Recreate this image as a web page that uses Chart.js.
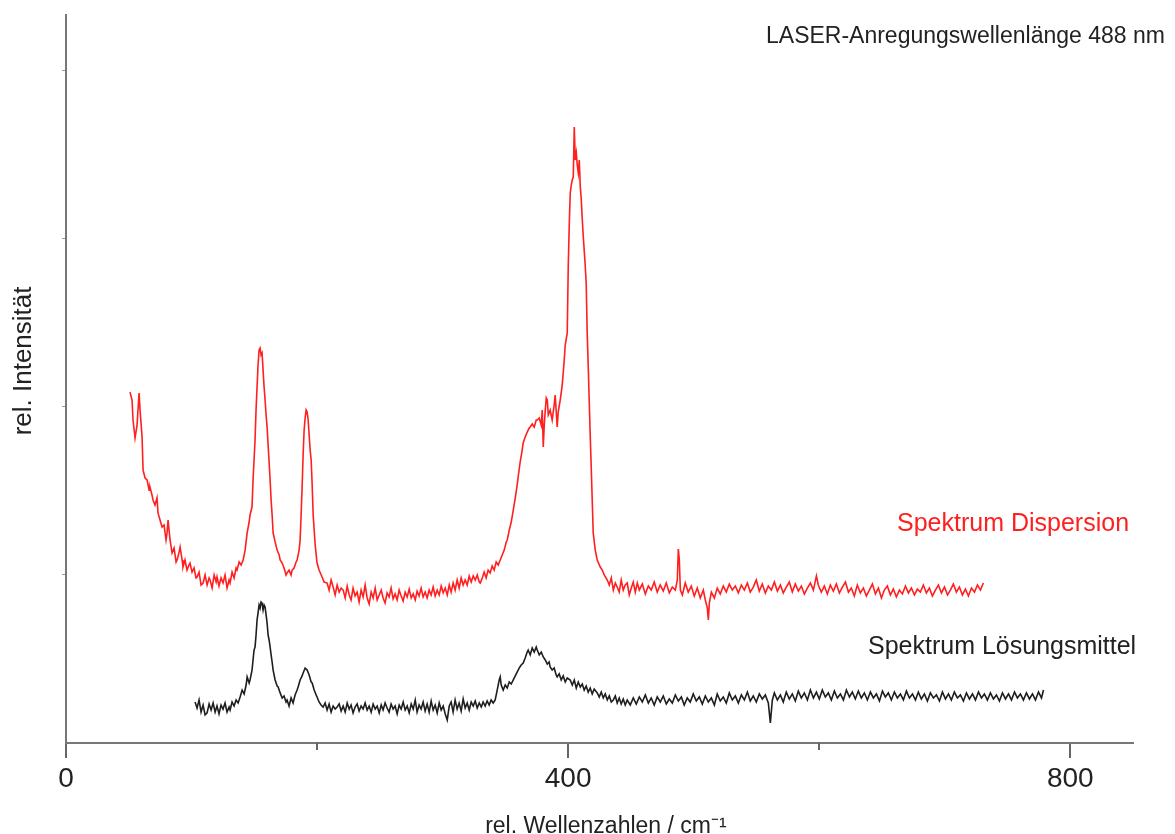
<!DOCTYPE html>
<html>
<head>
<meta charset="utf-8">
<title>Raman-Spektrum</title>
<script src="https://cdn.jsdelivr.net/npm/chart.js@4.4.1/dist/chart.umd.min.js"></script>
<style>
  html, body { margin: 0; padding: 0; background: #ffffff; }
  #wrap { width: 1175px; height: 834px; position: relative; }
  canvas { display: block; }
</style>
</head>
<body>
<div id="wrap"><canvas id="chart" width="1175" height="834"></canvas></div>
<script>
// ---------------- DATA ----------------
// x: rel. Wellenzahlen / cm^-1, y: rel. Intensität (arbitrary units)
const dispersionSpectrum = [
[51.0,208.8],[52.6,204.1],[53.4,192.2],[55.0,181.5],[56.6,189.2],[58.2,208.3],[59.0,198.1],[60.6,182.1],[61.4,162.4],[63.0,157.7],
[64.6,156.5],[66.2,150.5],[66.9,152.3],[68.5,147.6],[69.3,144.6],[70.9,141.6],[72.5,145.8],[73.3,136.9],[74.9,132.7],[76.5,128.5],
[78.1,129.7],[79.7,120.8],[80.5,125.0],[81.3,132.7],[82.9,120.8],[84.5,113.1],[86.1,116.0],[87.7,107.7],[88.5,108.9],[90.1,113.6],
[90.9,116.6],[92.5,108.9],[93.2,104.7],[94.8,108.9],[96.4,102.9],[98.0,105.9],[98.8,107.1],[100.4,101.7],[102.0,104.1],[103.6,98.2],
[104.4,98.8],[106.0,101.7],[107.6,94.0],[109.2,95.2],[110.8,100.0],[112.4,94.0],[114.0,98.2],[114.8,97.0],[116.4,92.2],[118.0,100.0],
[119.6,95.8],[120.3,98.8],[121.9,93.4],[123.5,98.2],[125.1,95.2],[126.7,100.0],[128.3,92.2],[129.9,97.0],[130.7,95.2],[132.3,101.7],
[133.9,98.2],[135.5,104.1],[136.3,102.9],[137.9,107.7],[139.5,105.9],[141.1,108.9],[142.7,114.8],[144.3,125.0],[145.9,131.5],[146.6,135.7],
[148.2,140.4],[149.0,156.5],[149.8,168.4],[150.6,180.3],[151.4,198.1],[152.2,211.8],[153.0,224.9],[153.8,233.8],[154.6,235.0],[155.4,230.9],
[156.2,232.1],[157.0,221.9],[157.8,211.8],[158.6,204.1],[159.4,195.2],[160.2,188.0],[161.0,177.3],[161.8,167.2],[162.6,156.5],[163.4,144.6],
[164.2,135.7],[165.0,125.0],[166.6,119.6],[168.2,114.8],[169.8,111.9],[170.6,108.9],[172.2,107.1],[173.7,104.1],[175.3,100.0],[176.1,101.2],
[177.7,102.9],[179.3,100.0],[180.1,102.9],[181.7,104.1],[183.3,107.7],[184.1,108.9],[185.7,114.8],[186.5,120.8],[187.3,135.7],[188.1,152.3],
[188.9,171.4],[189.7,186.2],[190.5,193.4],[191.3,198.1],[192.1,196.9],[192.9,192.2],[193.7,183.3],[194.5,174.3],[195.3,168.4],[196.1,153.5],
[196.9,135.7],[198.5,117.8],[200.0,107.1],[201.6,102.9],[204.0,98.8],[205.6,95.8],[208.0,95.2],[209.6,91.0],[211.2,97.0],[212.8,92.8],
[214.4,88.1],[216.0,94.0],[217.6,89.8],[219.2,92.2],[220.8,91.0],
[222.4,86.3],[224.0,93.4],[225.6,88.1],[227.1,85.1],[228.7,92.2],[230.3,87.5],[231.9,89.8],[233.5,83.9],[235.1,91.0],[236.7,86.9],
[238.3,94.0],[239.9,86.3],[241.5,82.7],[243.1,89.8],[244.7,86.3],[246.3,92.2],[247.9,85.1],[249.5,88.1],[251.1,91.0],[252.6,86.3],
[254.2,83.3],[255.8,89.3],[257.4,86.9],[259.0,92.2],[260.6,85.7],[262.2,88.7],[263.8,85.1],[265.4,91.0],[267.0,87.5],[268.6,84.5],
[270.2,89.8],[271.8,86.9],[273.4,91.6],[275.0,86.3],[276.6,88.7],[278.2,85.1],[279.7,90.4],[281.3,87.5],[282.9,92.2],[284.5,86.9],
[286.1,89.8],[287.7,86.3],[289.3,91.0],[290.9,88.1],[292.5,92.8],[294.1,87.5],[295.7,91.0],[297.3,88.1],[298.9,93.4],[300.5,89.3],
[302.1,92.2],[303.7,88.1],[305.3,94.0],[306.8,89.8],[308.4,95.2],[310.0,91.0],[311.6,97.0],[313.2,92.2],[314.8,98.2],[316.4,94.0],
[318.0,97.0],[319.6,94.0],[321.2,99.4],[322.8,95.8],[324.4,99.4],[326.0,97.0],[327.6,100.0],[329.2,95.8],[330.0,95.2],
[331.6,98.2],[333.1,101.7],[334.7,98.2],[336.3,102.9],[337.9,101.2],[339.5,105.3],[341.1,102.9],[342.7,107.7],[344.3,105.9],[345.9,108.9],
[347.5,111.9],[349.1,114.8],[350.7,119.6],[351.5,120.8],[353.1,126.7],[354.7,131.5],[356.3,138.6],[357.9,145.8],[359.4,153.5],[360.2,158.3],
[361.8,167.2],[363.4,174.3],[364.2,178.5],[365.8,182.1],[367.4,185.0],[369.0,187.4],[369.8,188.0],[371.4,189.8],[373.0,188.0],[374.6,192.2],
[375.4,192.2],[377.0,193.4],[378.6,189.2],[379.4,198.1],[380.2,176.1],[381.0,189.2],[381.8,198.1],[382.6,205.3],[383.4,204.1],[384.2,195.2],
[385.7,198.1],[387.3,192.2],[388.9,201.1],[389.7,207.1],[391.3,188.0],[392.1,196.9],[393.7,204.1],[395.3,213.0],[396.1,220.2],[396.9,227.9],
[397.7,236.8],[399.3,244.0],[400.1,283.2],[400.9,308.2],[401.7,327.3],[402.5,332.0],[403.3,335.0],[404.1,336.8],[404.9,366.5],[405.7,346.9],
[406.5,351.1],[407.3,343.9],[408.1,339.2],[408.9,346.9],[409.7,330.8],[410.5,323.1],[411.3,311.2],[412.0,302.3],[412.8,293.3],[413.6,284.4],
[414.4,273.7],[415.2,244.0],[416.0,224.9],[416.8,204.1],[417.6,183.3],[418.4,164.2],[419.2,144.6],[420.0,125.0],[421.6,114.8],[423.2,108.9],
[425.6,104.7],[427.2,102.9],[428.8,100.0],[431.2,97.0],[432.8,94.0],[434.4,98.2],[436.0,91.0],[437.6,95.2],[439.1,92.8],[440.7,89.8],
[442.3,97.0],[443.9,91.0],[445.5,94.0],[447.1,95.2],[448.7,88.1],[450.3,92.2],[451.9,95.8],[453.5,89.8],[455.1,95.2],
[456.7,91.0],[459.1,94.6],[461.5,88.7],[463.9,93.4],[466.2,91.0],[468.6,95.8],[471.0,89.8],[473.4,94.0],[475.8,90.4],[478.2,95.2],
[480.6,89.3],[483.0,92.8],[485.4,91.0],[487.0,97.0],[487.8,115.4],[488.6,108.9],[489.4,91.0],[491.0,88.1],[493.3,95.2],[495.7,89.8],
[498.1,93.4],[500.5,87.5],[502.9,92.2],[505.3,86.3],[507.7,91.0],[509.3,85.1],[510.9,80.3],[511.7,73.2],[512.5,83.3],[514.1,89.8],
[516.5,86.3],[518.8,92.2],[521.2,88.7],[523.6,93.4],[526.0,89.8],[528.4,94.6],[530.8,91.0],[533.2,93.4],[535.6,89.3],[538.0,94.0],
[540.4,91.0],[542.8,95.2],[545.1,89.8],[547.5,92.8],[549.9,97.0],[552.3,90.4],[554.7,94.6],[557.1,89.3],[559.5,93.4],[561.9,91.0],
[564.3,95.8],[566.7,90.4],[569.1,94.0],[571.4,89.3],[573.8,92.8],[576.2,95.8],[578.6,89.8],[581.0,94.6],[583.4,90.4],[585.8,93.4],
[588.2,88.7],[590.6,92.2],[593.0,95.2],[595.4,91.0],[597.8,99.4],[599.3,94.0],[601.7,89.8],[604.1,93.4],[606.5,88.7],[608.9,94.0],
[611.3,90.4],[613.7,94.6],[616.1,89.3],[618.5,92.8],[620.9,95.8],[623.3,89.8],[625.6,92.2],[628.0,87.5],[630.4,94.0],[632.8,89.3],
[635.2,92.2],[637.6,87.5],[640.0,91.0],[642.4,94.6],[644.8,88.7],[647.2,92.2],[649.6,86.3],[651.9,91.0],[654.3,93.4],[656.7,88.1],
[659.1,91.6],[661.5,86.9],[663.9,91.0],[666.3,88.7],[668.7,93.4],[671.1,89.3],[673.5,92.2],[675.9,88.1],[678.2,91.6],[680.6,89.8],
[683.0,94.0],[685.4,89.3],[687.8,92.2],[690.2,87.5],[692.6,91.0],[695.0,94.0],[697.4,89.3],[699.8,92.8],[702.2,88.1],[704.5,91.0],
[706.9,94.6],[709.3,89.8],[711.7,92.8],[714.1,88.1],[716.5,91.6],[718.9,87.5],[721.3,92.2],[723.7,89.8],[726.1,94.0],[728.5,91.0],
[730.8,95.2]
];

const solventSpectrum = [
[102.8,24.4],[104.4,20.8],[106.0,25.6],[107.6,18.4],[109.2,22.6],[110.8,16.7],[112.4,17.9],[114.0,23.2],[115.6,19.6],[117.2,23.8],
[118.8,18.4],[120.3,22.0],[121.9,17.3],[123.5,22.6],[125.1,20.2],[126.7,23.8],[128.3,18.4],[129.9,21.4],[130.7,19.6],[132.3,24.4],
[133.9,22.0],[135.5,25.6],[137.1,23.8],[138.7,27.4],[140.3,31.5],[141.9,29.2],[143.5,34.5],[144.3,39.3],[145.9,35.7],[146.6,37.5],
[148.2,43.4],[149.0,49.4],[149.8,55.3],[150.6,57.1],[151.4,64.3],[152.2,73.2],[153.0,77.4],[153.8,82.1],[154.6,80.3],[155.4,83.9],
[156.2,83.3],[157.0,79.1],[157.8,82.1],[158.6,80.9],[159.4,76.2],[160.2,71.4],[161.0,64.3],[161.8,61.3],[162.6,57.1],[163.4,52.4],
[164.2,48.2],[165.0,43.4],[166.6,37.5],[168.2,33.9],[169.0,33.3],[170.6,29.8],[172.2,26.8],[173.7,28.0],[175.3,24.4],[176.1,25.6],
[177.7,22.0],[179.3,26.8],[180.9,23.8],[182.5,28.6],[184.1,31.5],[184.9,33.3],[186.5,37.5],[188.1,39.9],[188.9,41.7],[190.5,44.6],
[192.1,43.4],[193.7,40.5],[195.3,36.3],[196.1,35.7],[197.7,31.5],[199.3,28.6],[200.0,27.4],[201.6,24.4],[203.2,22.6],[204.8,21.4],
[206.4,23.8],[208.0,19.6],[209.6,23.2],[211.2,18.4],[212.8,22.0],[214.4,20.2],[216.0,21.4],
[217.6,23.2],[219.2,19.0],[220.8,22.0],[222.4,18.4],[224.0,23.8],[225.6,20.2],[227.1,22.6],[228.7,17.9],[230.3,21.4],[231.9,23.2],
[233.5,19.0],[235.1,22.0],[236.7,20.2],[238.3,23.8],[239.9,19.6],[241.5,22.0],[243.1,18.4],[244.7,23.2],[246.3,20.2],[247.9,22.0],
[249.5,17.9],[251.1,22.6],[252.6,19.6],[254.2,23.8],[255.8,20.8],[257.4,18.4],[259.0,23.2],[260.6,20.2],[262.2,22.0],[263.8,17.3],
[265.4,22.6],[267.0,20.2],[268.6,24.4],[270.2,19.6],[271.8,22.0],[273.4,17.9],[275.0,23.2],[276.6,20.2],[278.2,25.6],[279.7,18.4],
[281.3,22.6],[282.9,20.2],[284.5,24.4],[286.1,19.0],[287.7,23.2],[289.3,18.4],[290.9,25.0],[292.5,19.6],[294.1,22.6],[295.7,17.9],
[297.3,23.8],[298.9,19.6],[300.5,22.0],[302.1,17.3],[303.7,13.7],[305.3,22.0],[306.8,24.4],[308.4,18.4],[310.0,25.6],[311.6,20.2],
[313.2,23.8],[314.8,19.0],[316.4,26.2],[318.0,20.8],[319.6,23.8],[321.2,19.6],[322.8,24.4],[324.4,22.0],[326.0,25.0],[327.6,20.8],
[329.2,23.8],[330.8,21.4],[332.3,24.4],[333.9,22.0],[335.5,25.0],[337.1,22.6],[338.7,25.6],[340.3,23.8],
[341.9,25.6],[343.5,31.5],[345.1,37.5],[345.9,39.3],[346.7,34.5],[348.3,31.5],[349.9,34.5],[351.5,32.7],[353.1,36.3],[354.7,35.1],
[356.3,37.5],[357.9,39.9],[359.4,42.2],[361.0,44.6],[362.6,46.4],[364.2,47.6],[365.8,50.6],[367.4,54.1],[368.2,55.3],[369.8,52.4],
[371.4,56.5],[373.0,54.1],[374.6,57.1],[375.4,55.3],[377.0,52.4],[378.6,54.1],[380.2,51.2],[381.8,49.4],[383.4,47.0],[384.9,48.2],
[385.7,45.2],[387.3,43.4],[388.9,44.6],[390.5,40.5],[391.3,39.3],[392.9,41.1],[394.5,37.5],[396.1,39.9],[397.7,36.3],[399.3,38.7],
[401.7,37.5],[403.3,34.5],[404.9,37.5],[406.5,32.7],[408.1,36.3],[409.7,33.3],[411.3,35.1],[412.8,31.5],[414.4,33.9],[416.0,30.3],
[417.6,32.7],[419.2,29.2],[420.8,32.1],[423.2,29.8],[424.8,27.4],[426.4,30.3],[428.0,26.8],[429.6,29.2],[431.2,25.6],[432.8,28.0],
[434.4,24.4],[436.0,25.6],[437.6,28.0],[439.1,23.8],[440.7,26.8],[442.3,23.2],[443.9,26.2],[445.5,22.6],[447.1,25.6],[449.5,22.6],
[451.9,26.8],[454.3,23.2],[456.7,27.4],[459.1,24.4],[461.5,28.6],[463.9,23.8],[466.2,26.8],[468.6,22.6],[471.0,27.4],[473.4,24.4],
[475.8,28.0],[478.2,23.2],[480.6,26.2],[483.0,23.8],[485.4,28.6],[487.8,25.0],[490.2,27.4],[492.5,22.6],[494.9,26.8],[497.3,24.4],
[499.7,29.2],[502.1,25.0],[504.5,27.4],[506.9,23.2],[509.3,28.0],[511.7,24.4],[514.1,26.8],[516.5,22.6],[518.8,29.2],[521.2,25.0],
[523.6,27.4],[526.0,23.8],[528.4,29.8],[530.8,25.6],[533.2,28.0],[535.6,23.8],[538.0,28.6],[540.4,25.6],[542.8,30.3],[545.1,25.0],
[547.5,28.0],[549.9,24.4],[552.3,29.2],[554.7,26.2],[557.1,28.6],[559.5,23.8],[561.1,11.9],[562.7,25.6],[564.3,29.8],[566.7,25.6],
[569.1,28.6],[571.4,24.4],[573.8,30.3],[576.2,26.2],[578.6,29.2],[581.0,25.0],[583.4,30.9],[585.8,26.8],[588.2,29.8],[590.6,25.6],
[593.0,31.5],[595.4,26.8],[597.8,30.3],[600.1,26.2],[602.5,31.5],[604.9,27.4],[607.3,29.8],[609.7,25.6],[612.1,30.9],[614.5,26.8],
[616.9,29.2],[619.3,25.6],[621.7,31.5],[624.1,27.4],[626.4,30.3],[628.8,26.2],[631.2,30.9],[633.6,26.8],[636.0,29.8],[638.4,25.6],
[640.8,30.3],[643.2,26.8],[645.6,29.2],[648.0,25.0],[650.4,30.9],[652.7,27.4],[655.1,29.8],[657.5,25.6],[659.9,30.3],[662.3,26.8],
[664.7,29.2],[667.1,25.6],[669.5,30.9],[671.9,26.8],[674.3,29.2],[676.7,25.6],[679.0,30.3],[681.4,26.2],[683.8,29.2],[686.2,25.0],
[688.6,29.8],[691.0,26.8],[693.4,28.6],[695.8,25.0],[698.2,30.3],[700.6,26.2],[703.0,29.2],[705.3,25.6],[707.7,30.3],[710.1,26.8],
[712.5,28.6],[714.9,25.0],[717.3,29.8],[719.7,26.2],[722.1,29.2],[724.5,25.6],[726.9,30.3],[729.3,26.8],[731.6,29.2],[734.0,25.6],
[736.4,29.8],[738.8,26.2],[741.2,28.6],[743.6,25.0],[746.0,29.8],[748.4,26.2],[750.8,29.2],[753.2,25.6],[755.6,30.3],[757.9,26.8],
[760.3,29.2],[762.7,25.6],[765.1,29.8],[767.5,26.2],[769.9,29.2],[772.3,25.6],[774.7,30.3],[777.1,26.8],[778.7,31.5]
];

const xTickValues = [0, 200, 400, 600, 800];
const xLabelledTicks = [0, 400, 800];
const yTickValues = [100, 200, 300, 400];

const seriesNames = ['Spektrum Dispersion', 'Spektrum Lösungsmittel'];
const chartTexts = {
  note: 'LASER-Anregungswellenlänge 488 nm',
  xTitle: 'rel. Wellenzahlen / cm\u207B\u00B9',
  yTitle: 'rel. Intensität'
};

// ---------------- CHART ----------------
const FONT = '"Liberation Sans", Arial, Helvetica, sans-serif';
const RED = '#ff1f1f';
const BLACK = '#1e1e1e';

const annotationPlugin = {
  id: 'spectrumAnnotations',
  afterDraw(chart) {
    const ctx = chart.ctx;
    const xs = chart.scales.x;
    const area = chart.chartArea;
    ctx.save();
    // minor x ticks
    ctx.strokeStyle = '#666';
    ctx.lineWidth = 2;
    xTickValues.filter(v => !xLabelledTicks.includes(v)).forEach(v => {
      const px = Math.round(xs.getPixelForValue(v));
      ctx.beginPath();
      ctx.moveTo(px, area.bottom);
      ctx.lineTo(px, area.bottom + 7);
      ctx.stroke();
    });
    // texts
    ctx.textAlign = 'left';
    ctx.textBaseline = 'middle';
    ctx.fillStyle = '#222';
    ctx.font = '23px ' + FONT;
    ctx.fillText(chartTexts.note, 766, 37);
    ctx.font = '25px ' + FONT;
    ctx.fillStyle = RED;
    ctx.fillText(seriesNames[0], 897, 524);
    ctx.fillStyle = '#222';
    ctx.fillText(seriesNames[1], 868, 647);
    ctx.restore();
  }
};

new Chart(document.getElementById('chart'), {
  type: 'scatter',
  data: {
    datasets: [
      {
        label: seriesNames[0],
        data: dispersionSpectrum.map(([x, y]) => ({ x, y })),
        showLine: true,
        borderColor: RED,
        borderWidth: 1.6,
        pointRadius: 0,
        tension: 0
      },
      {
        label: seriesNames[1],
        data: solventSpectrum.map(([x, y]) => ({ x, y })),
        showLine: true,
        borderColor: BLACK,
        borderWidth: 1.6,
        pointRadius: 0,
        tension: 0
      }
    ]
  },
  options: {
    responsive: false,
    animation: false,
    devicePixelRatio: 1,
    layout: { padding: { top: 15, right: 42, bottom: 0, left: 0 } },
    plugins: {
      legend: { display: false },
      tooltip: { enabled: false }
    },
    scales: {
      x: {
        type: 'linear',
        min: 0,
        max: 850,
        afterBuildTicks: s => { s.ticks = xTickValues.map(v => ({ value: v })); },
        afterFit: s => { s.height = 91; },
        border: { display: true, color: '#777', width: 2 },
        grid: {
          drawOnChartArea: false,
          drawTicks: true,
          tickLength: 15,
          lineWidth: 2,
          color: c => (c.tick && xLabelledTicks.includes(c.tick.value)) ? '#666' : 'rgba(0,0,0,0)'
        },
        ticks: {
          callback: v => xLabelledTicks.includes(v) ? String(v) : '',
          font: { family: FONT, size: 28 },
          color: '#222',
          padding: 4,
          maxRotation: 0,
          autoSkip: false
        },
        title: {
          display: true,
          text: '  ' + chartTexts.xTitle,
          font: { family: FONT, size: 23, lineHeight: 1 },
          color: '#222',
          padding: { top: 0, bottom: -4 }
        }
      },
      y: {
        type: 'linear',
        min: 0,
        max: 433.2,
        afterBuildTicks: s => { s.ticks = yTickValues.map(v => ({ value: v })); },
        afterFit: s => { s.width = 66; },
        border: { display: true, color: '#777', width: 2 },
        grid: {
          drawOnChartArea: false,
          drawTicks: true,
          tickLength: 4,
          lineWidth: 1,
          color: '#999'
        },
        ticks: { display: false },
        title: {
          display: true,
          text: '     ' + chartTexts.yTitle,
          font: { family: FONT, size: 26, lineHeight: 1.2 },
          color: '#222',
          padding: { top: 8, bottom: 0 }
        }
      }
    }
  },
  plugins: [annotationPlugin]
});
</script>
</body>
</html>
